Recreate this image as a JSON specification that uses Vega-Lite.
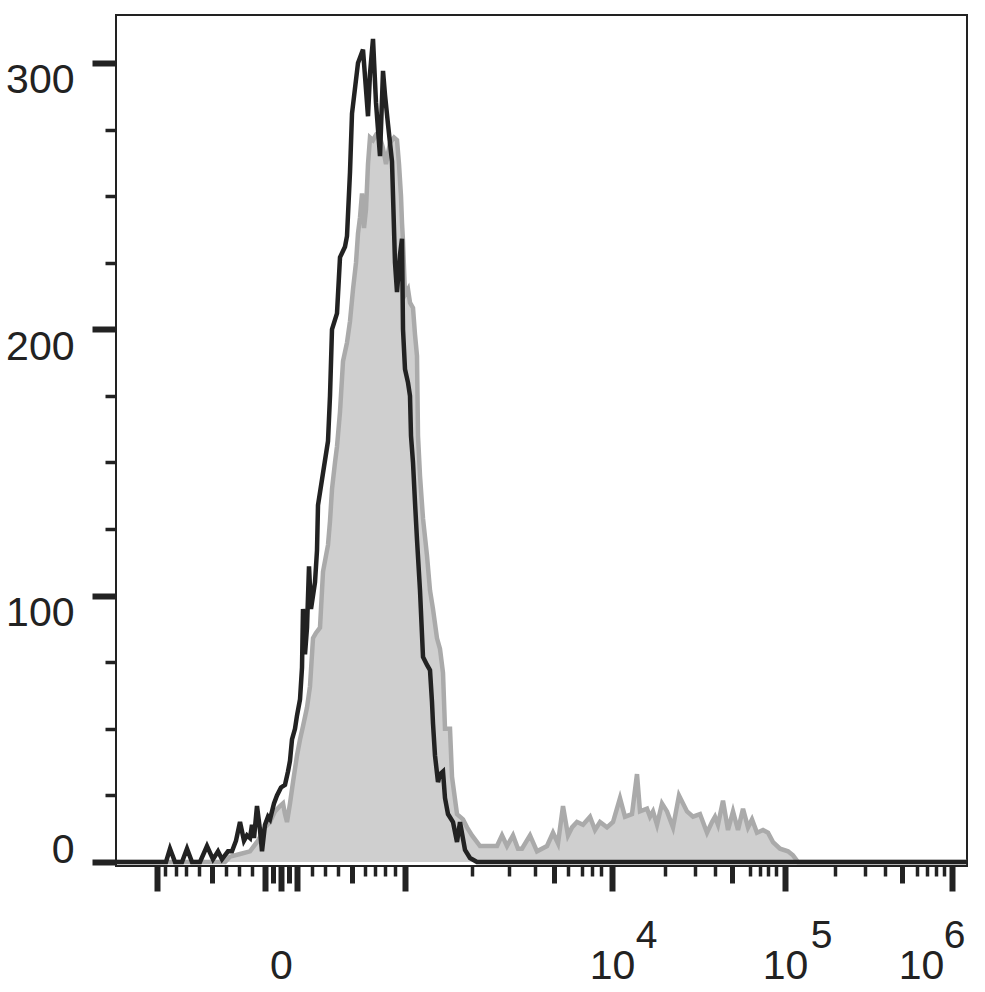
{
  "$schema": "https://vega.github.io/schema/vega-lite/v6.json",
  "autosize": {"type": "none"},
  "padding": {"left": 116, "top": 15, "right": 18, "bottom": 126},
  "width": 851,
  "height": 851,
  "background": "white",
  "config": {
    "view": {"stroke": "#222222", "strokeWidth": 2},
    "axis": {"labelFont": "Liberation Sans", "labelColor": "#222222", "tickColor": "#222222", "grid": false, "domain": false, "title": null, "labelOverlap": false, "labelFlush": false, "labelBound": false}
  },
  "datasets": {
    "gray": [
      {"ch":1,"count":0},{"ch":109,"count":0},{"ch":114,"count":2},{"ch":124,"count":3},{"ch":134,"count":4},{"ch":142,"count":8},{"ch":149,"count":13},{"ch":154,"count":15},{"ch":159,"count":19},{"ch":164,"count":21},{"ch":167,"count":22},{"ch":169,"count":18},{"ch":171,"count":15},{"ch":174,"count":22},{"ch":177,"count":30},{"ch":181,"count":40},{"ch":184,"count":46},{"ch":187,"count":51},{"ch":191,"count":58},{"ch":194,"count":66},{"ch":197,"count":84},{"ch":200,"count":86},{"ch":204,"count":88},{"ch":207,"count":109},{"ch":210,"count":115},{"ch":212,"count":119},{"ch":214,"count":128},{"ch":216,"count":140},{"ch":219,"count":150},{"ch":221,"count":156},{"ch":224,"count":169},{"ch":227,"count":188},{"ch":231,"count":195},{"ch":234,"count":203},{"ch":237,"count":215},{"ch":240,"count":225},{"ch":242,"count":236},{"ch":244,"count":242},{"ch":246,"count":251},{"ch":248,"count":238},{"ch":250,"count":245},{"ch":252,"count":262},{"ch":254,"count":272},{"ch":257,"count":271},{"ch":260,"count":273},{"ch":264,"count":272},{"ch":267,"count":268},{"ch":270,"count":262},{"ch":274,"count":270},{"ch":278,"count":272},{"ch":281,"count":271},{"ch":283,"count":262},{"ch":285,"count":250},{"ch":286,"count":240},{"ch":287,"count":233},{"ch":289,"count":213},{"ch":292,"count":215},{"ch":294,"count":210},{"ch":297,"count":208},{"ch":299,"count":198},{"ch":301,"count":190},{"ch":302,"count":160},{"ch":304,"count":145},{"ch":307,"count":129},{"ch":311,"count":115},{"ch":314,"count":102},{"ch":317,"count":95},{"ch":321,"count":84},{"ch":324,"count":80},{"ch":327,"count":71},{"ch":329,"count":50},{"ch":334,"count":50},{"ch":336,"count":32},{"ch":341,"count":18},{"ch":347,"count":16},{"ch":351,"count":13},{"ch":356,"count":10},{"ch":364,"count":6},{"ch":374,"count":6},{"ch":381,"count":6},{"ch":386,"count":10},{"ch":391,"count":6},{"ch":397,"count":10},{"ch":402,"count":5},{"ch":406,"count":5},{"ch":414,"count":10},{"ch":421,"count":4},{"ch":431,"count":6},{"ch":437,"count":11},{"ch":442,"count":7},{"ch":447,"count":21},{"ch":452,"count":10},{"ch":456,"count":13},{"ch":461,"count":15},{"ch":467,"count":14},{"ch":474,"count":17},{"ch":479,"count":12},{"ch":484,"count":15},{"ch":491,"count":13},{"ch":497,"count":15},{"ch":504,"count":24},{"ch":509,"count":17},{"ch":516,"count":18},{"ch":521,"count":33},{"ch":524,"count":19},{"ch":531,"count":20},{"ch":534,"count":17},{"ch":537,"count":19},{"ch":541,"count":14},{"ch":546,"count":22},{"ch":551,"count":19},{"ch":557,"count":13},{"ch":563,"count":25},{"ch":571,"count":19},{"ch":577,"count":17},{"ch":584,"count":18},{"ch":591,"count":11},{"ch":596,"count":15},{"ch":599,"count":17},{"ch":602,"count":14},{"ch":607,"count":23},{"ch":612,"count":12},{"ch":617,"count":19},{"ch":622,"count":12},{"ch":627,"count":20},{"ch":632,"count":13},{"ch":636,"count":16},{"ch":641,"count":11},{"ch":647,"count":12},{"ch":652,"count":11},{"ch":657,"count":7.5},{"ch":664,"count":5},{"ch":672,"count":4},{"ch":677,"count":2.5},{"ch":682,"count":0},{"ch":851,"count":0}
    ],
    "black": [
      {"ch":1,"count":0},{"ch":44,"count":0},{"ch":50,"count":0},{"ch":54,"count":5},{"ch":59,"count":0},{"ch":66,"count":0},{"ch":71,"count":5},{"ch":76,"count":0},{"ch":84,"count":0},{"ch":91,"count":6},{"ch":97,"count":1},{"ch":102,"count":4},{"ch":106,"count":1},{"ch":112,"count":4},{"ch":116,"count":4},{"ch":120,"count":8},{"ch":124,"count":15},{"ch":128,"count":8},{"ch":131,"count":10},{"ch":134,"count":9},{"ch":136,"count":14},{"ch":138,"count":9},{"ch":141,"count":21},{"ch":144,"count":12},{"ch":146,"count":4},{"ch":149,"count":14},{"ch":152,"count":17},{"ch":154,"count":16},{"ch":158,"count":22},{"ch":161,"count":25},{"ch":165,"count":28},{"ch":169,"count":29},{"ch":172,"count":34},{"ch":174,"count":38},{"ch":176,"count":46},{"ch":179,"count":50},{"ch":181,"count":55},{"ch":184,"count":61},{"ch":186,"count":73},{"ch":187,"count":95},{"ch":189,"count":78},{"ch":191,"count":88},{"ch":193,"count":111},{"ch":195,"count":95},{"ch":197,"count":100},{"ch":199,"count":105},{"ch":201,"count":117},{"ch":202,"count":134},{"ch":207,"count":146},{"ch":212,"count":158},{"ch":214,"count":175},{"ch":216,"count":200},{"ch":221,"count":206},{"ch":224,"count":227},{"ch":229,"count":231},{"ch":231,"count":235},{"ch":234,"count":259},{"ch":236,"count":281},{"ch":242,"count":300},{"ch":247,"count":305},{"ch":250,"count":290},{"ch":252,"count":280},{"ch":254,"count":296},{"ch":257,"count":309},{"ch":260,"count":285},{"ch":264,"count":265},{"ch":267,"count":297},{"ch":269,"count":288},{"ch":272,"count":277},{"ch":276,"count":263},{"ch":279,"count":225},{"ch":281,"count":214},{"ch":284,"count":228},{"ch":286,"count":234},{"ch":287,"count":200},{"ch":289,"count":185},{"ch":292,"count":180},{"ch":294,"count":175},{"ch":295,"count":160},{"ch":297,"count":150},{"ch":299,"count":135},{"ch":301,"count":121},{"ch":304,"count":102},{"ch":307,"count":77},{"ch":311,"count":74},{"ch":314,"count":72},{"ch":316,"count":60},{"ch":317,"count":52},{"ch":319,"count":40},{"ch":322,"count":30},{"ch":324,"count":33},{"ch":327,"count":34},{"ch":329,"count":24},{"ch":332,"count":18},{"ch":337,"count":15},{"ch":341,"count":7.5},{"ch":344,"count":15},{"ch":349,"count":4.5},{"ch":354,"count":1.5},{"ch":361,"count":0},{"ch":851,"count":0}
    ]
  },
  "resolve": {"axis": {"x": "independent"}},
  "layer": [
    {
      "data": {"name": "gray"},
      "mark": {"type": "area", "color": "#cfcfcf", "clip": true},
      "encoding": {
        "x": {
          "field": "ch", "type": "quantitative",
          "scale": {"domain": [0, 851], "nice": false, "zero": false},
          "axis": {
            "orient": "bottom",
            "values": [41,49,60,70,83,96,110,123,136,149,157,165,173,181,196,209,222,236,249,259,269,279,289,356,393,419,438,452,466,476,485,496,549,579,599,616,634,644,652,660,669,719,749,769,786,801,811,820,828,836],
            "labelExpr": "datum.value == 165 ? '0' : (datum.value == 496 || datum.value == 669 || datum.value == 836) ? '10' : ''",
            "tickSize": {"condition": [{"test": "indexof([41,149,165,181,289,496,669,836], datum.value) >= 0", "value": 25}, {"test": "indexof([96,157,173,236,438,616,786], datum.value) >= 0", "value": 17}], "value": 10},
            "tickWidth": {"condition": [{"test": "indexof([41,149,165,181,289,496,669,836], datum.value) >= 0", "value": 6}, {"test": "indexof([96,157,173,236,438,616,786], datum.value) >= 0", "value": 5}], "value": 3.5},
            "labelOffset": {"condition": {"test": "datum.value == 836", "value": -31}, "value": 0},
            "labelFontSize": 41,
            "labelPadding": 55
          }
        },
        "y": {
          "field": "count", "type": "quantitative",
          "scale": {"domain": [-1.5, 318], "nice": false, "zero": false},
          "axis": {
            "values": [0,25,50,75,100,125,150,175,200,225,250,275,300],
            "labelExpr": "datum.value % 100 == 0 ? datum.label : ''",
            "tickSize": {"condition": {"test": "datum.value % 100 == 0", "value": 24}, "value": 11},
            "tickWidth": {"condition": {"test": "datum.value % 100 == 0", "value": 6}, "value": 3.5},
            "labelBaseline": {"condition": {"test": "datum.value == 0", "value": "alphabetic"}, "value": "top"},
            "labelOffset": {"condition": {"test": "datum.value == 0", "value": 0}, "value": -2},
            "labelFontSize": 41,
            "labelPadding": 18
          }
        }
      }
    },
    {
      "data": {"name": "gray"},
      "mark": {"type": "line", "color": "#aaaaaa", "strokeWidth": 4.5, "clip": true},
      "encoding": {
        "x": {"field": "ch", "type": "quantitative", "axis": null},
        "y": {"field": "count", "type": "quantitative"}
      }
    },
    {
      "data": {"name": "black"},
      "mark": {"type": "line", "color": "#222222", "strokeWidth": 4.5, "clip": true},
      "encoding": {
        "x": {
          "field": "ch", "type": "quantitative",
          "axis": {
            "orient": "bottom",
            "values": [496, 669, 836],
            "labelExpr": "datum.value == 496 ? '4' : datum.value == 669 ? '5' : '6'",
            "ticks": false,
            "labelOffset": {"condition": [{"test": "datum.value == 496", "value": 34}, {"test": "datum.value == 669", "value": 36}], "value": 2},
            "labelFontSize": 39,
            "labelPadding": 50
          }
        },
        "y": {"field": "count", "type": "quantitative"}
      }
    }
  ]
}
